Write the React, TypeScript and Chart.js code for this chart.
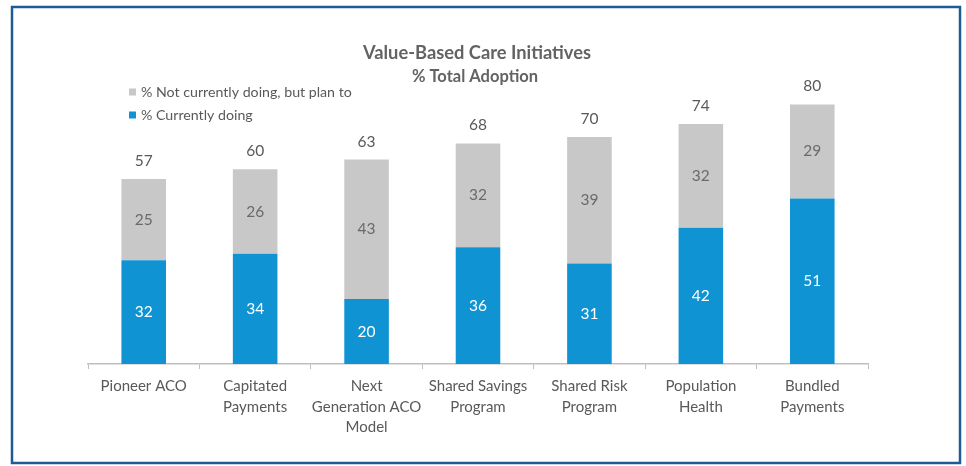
import React, { useEffect, useRef } from "react";
import { Chart, registerables } from "chart.js";

Chart.register(...registerables);

const categories: (string | string[])[] = [
  "Pioneer ACO",
  ["Capitated", "Payments"],
  ["Next", "Generation ACO", "Model"],
  ["Shared Savings", "Program"],
  ["Shared Risk", "Program"],
  ["Population", "Health"],
  ["Bundled", "Payments"],
];
const currentlyDoing = [32, 34, 20, 36, 31, 42, 51];
const planTo = [25, 26, 43, 32, 39, 32, 29];
const totals = [57, 60, 63, 68, 70, 74, 80];

const BLUE = "#0f93d2";
const GRAY = "#c8c8c8";
const TEXT = "#595959";
const FONT = "Lato, 'Open Sans', sans-serif";

const overlayPlugin = {
  id: "overlay",
  beforeDraw(chart: any) {
    const ctx = chart.ctx;
    ctx.save();
    ctx.fillStyle = "#ffffff";
    ctx.fillRect(0, 0, chart.width, chart.height);
    ctx.restore();
  },
  afterDraw(chart: any) {
    const ctx = chart.ctx;
    ctx.save();
    // frame
    ctx.strokeStyle = "#1d5b97";
    ctx.lineWidth = 2.5;
    ctx.strokeRect(12, 7, 948, 456);
    // titles
    ctx.fillStyle = "#636363";
    ctx.textAlign = "center";
    ctx.textBaseline = "middle";
    ctx.font = `bold 18.3px ${FONT}`;
    ctx.fillText("Value-Based Care Initiatives", 477, 53);
    ctx.font = `bold 16.5px ${FONT}`;
    ctx.fillText("% Total Adoption", 475, 77);
    // legend
    ctx.textAlign = "left";
    ctx.font = `14.2px ${FONT}`;
    const items = [
      { label: "% Not currently doing, but plan to", color: GRAY, y: 92 },
      { label: "% Currently doing", color: BLUE, y: 115 },
    ];
    for (const it of items) {
      ctx.fillStyle = it.color;
      ctx.fillRect(129, it.y - 3.5, 7, 7);
      ctx.fillStyle = TEXT;
      ctx.fillText(it.label, 141, it.y);
    }
    ctx.restore();
  },
  afterDatasetsDraw(chart: any) {
    const ctx = chart.ctx;
    ctx.save();
    ctx.textAlign = "center";
    ctx.textBaseline = "middle";
    ctx.font = `15.5px ${FONT}`;
    const m0 = chart.getDatasetMeta(0);
    const m1 = chart.getDatasetMeta(1);
    m0.data.forEach((el: any, i: number) => {
      ctx.fillStyle = "#ffffff";
      ctx.fillText(String(currentlyDoing[i]), el.x, (el.y + el.base) / 2);
    });
    m1.data.forEach((el: any, i: number) => {
      ctx.fillStyle = "#6a6a6a";
      ctx.fillText(String(planTo[i]), el.x, (el.y + el.base) / 2);
      ctx.fillStyle = TEXT;
      ctx.fillText(String(totals[i]), el.x, el.y - 18);
    });
    ctx.restore();
  },
};

export default function App() {
  const ref = useRef<HTMLCanvasElement | null>(null);
  useEffect(() => {
    if (!ref.current) return;
    const chart = new Chart(ref.current, {
      type: "bar",
      data: {
        labels: categories as any,
        datasets: [
          {
            label: "% Currently doing",
            data: currentlyDoing,
            backgroundColor: BLUE,
            barPercentage: 0.4,
            categoryPercentage: 1,
          },
          {
            label: "% Not currently doing, but plan to",
            data: planTo,
            backgroundColor: GRAY,
            barPercentage: 0.4,
            categoryPercentage: 1,
          },
        ],
      },
      options: {
        animation: false,
        responsive: false,
        maintainAspectRatio: false,
        layout: { padding: { left: 88, right: 98, top: 72, bottom: 0 } },
        plugins: {
          legend: { display: false },
          title: { display: false },
          tooltip: { enabled: false },
        },
        scales: {
          x: {
            stacked: true,
            afterFit: (s: any) => {
              s.height = 102;
            },
            grid: {
              drawOnChartArea: false,
              drawTicks: true,
              tickLength: 5,
              color: "#bfbfbf",
              offset: true,
            },
            border: { color: "#bfbfbf", width: 1.5 },
            ticks: {
              color: TEXT,
              padding: 7,
              maxRotation: 0,
              autoSkip: false,
              font: { family: FONT, size: 15, lineHeight: 1.37 },
            },
          },
          y: {
            stacked: true,
            display: false,
            min: 0,
            max: 90,
          },
        },
      },
      plugins: [overlayPlugin],
    });
    return () => chart.destroy();
  }, []);
  return (
    <div style={{ position: "fixed", left: 0, top: 0, width: 966, height: 466 }}>
      <canvas ref={ref} width={966} height={466} style={{ width: 966, height: 466, display: "block" }} />
    </div>
  );
}
